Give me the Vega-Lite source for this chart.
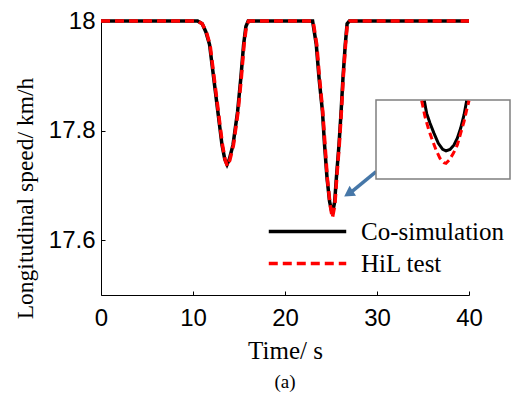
{
  "$schema": "https://vega.github.io/schema/vega-lite/v6.json",
  "width": 368,
  "height": 274,
  "autosize": {"type": "none"},
  "padding": {"left": 101, "top": 21, "right": 48, "bottom": 98},
  "background": "white",
  "view": {"stroke": null},
  "title": {"text": "(a)", "orient": "bottom", "font": "Liberation Serif", "fontSize": 19, "fontWeight": "normal", "color": "black", "offset": 10},
  "datasets": {
    "main": [
      {"s": "Co-simulation", "t": 0, "v": 18},
      {"s": "Co-simulation", "t": 10.5, "v": 18},
      {"s": "Co-simulation", "t": 11.0, "v": 17.995},
      {"s": "Co-simulation", "t": 11.4, "v": 17.98},
      {"s": "Co-simulation", "t": 11.8, "v": 17.957},
      {"s": "Co-simulation", "t": 12.25, "v": 17.896},
      {"s": "Co-simulation", "t": 12.7, "v": 17.835},
      {"s": "Co-simulation", "t": 13.15, "v": 17.774},
      {"s": "Co-simulation", "t": 13.45, "v": 17.748},
      {"s": "Co-simulation", "t": 13.7, "v": 17.738},
      {"s": "Co-simulation", "t": 13.95, "v": 17.748},
      {"s": "Co-simulation", "t": 14.35, "v": 17.774},
      {"s": "Co-simulation", "t": 14.85, "v": 17.835},
      {"s": "Co-simulation", "t": 15.2, "v": 17.896},
      {"s": "Co-simulation", "t": 15.5, "v": 17.957},
      {"s": "Co-simulation", "t": 15.75, "v": 17.99},
      {"s": "Co-simulation", "t": 16.0, "v": 18},
      {"s": "Co-simulation", "t": 23.0, "v": 18},
      {"s": "Co-simulation", "t": 23.4, "v": 17.957},
      {"s": "Co-simulation", "t": 23.7, "v": 17.896},
      {"s": "Co-simulation", "t": 24.07, "v": 17.835},
      {"s": "Co-simulation", "t": 24.3, "v": 17.774},
      {"s": "Co-simulation", "t": 24.57, "v": 17.713},
      {"s": "Co-simulation", "t": 24.85, "v": 17.67},
      {"s": "Co-simulation", "t": 25.14, "v": 17.648},
      {"s": "Co-simulation", "t": 25.4, "v": 17.67},
      {"s": "Co-simulation", "t": 25.58, "v": 17.713},
      {"s": "Co-simulation", "t": 25.87, "v": 17.774},
      {"s": "Co-simulation", "t": 26.1, "v": 17.835},
      {"s": "Co-simulation", "t": 26.3, "v": 17.896},
      {"s": "Co-simulation", "t": 26.55, "v": 17.957},
      {"s": "Co-simulation", "t": 26.75, "v": 17.995},
      {"s": "Co-simulation", "t": 27.0, "v": 18},
      {"s": "Co-simulation", "t": 40, "v": 18},
      {"s": "HiL test", "t": 0, "v": 18},
      {"s": "HiL test", "t": 10.5, "v": 18},
      {"s": "HiL test", "t": 11.0, "v": 17.995},
      {"s": "HiL test", "t": 11.45, "v": 17.98},
      {"s": "HiL test", "t": 11.85, "v": 17.957},
      {"s": "HiL test", "t": 12.3, "v": 17.896},
      {"s": "HiL test", "t": 12.75, "v": 17.835},
      {"s": "HiL test", "t": 13.2, "v": 17.774},
      {"s": "HiL test", "t": 13.5, "v": 17.746},
      {"s": "HiL test", "t": 13.75, "v": 17.735},
      {"s": "HiL test", "t": 14.0, "v": 17.746},
      {"s": "HiL test", "t": 14.4, "v": 17.774},
      {"s": "HiL test", "t": 14.9, "v": 17.835},
      {"s": "HiL test", "t": 15.25, "v": 17.896},
      {"s": "HiL test", "t": 15.55, "v": 17.957},
      {"s": "HiL test", "t": 15.8, "v": 17.99},
      {"s": "HiL test", "t": 16.05, "v": 18},
      {"s": "HiL test", "t": 23.05, "v": 18},
      {"s": "HiL test", "t": 23.45, "v": 17.957},
      {"s": "HiL test", "t": 23.75, "v": 17.896},
      {"s": "HiL test", "t": 24.1, "v": 17.835},
      {"s": "HiL test", "t": 24.35, "v": 17.774},
      {"s": "HiL test", "t": 24.6, "v": 17.713},
      {"s": "HiL test", "t": 24.9, "v": 17.665},
      {"s": "HiL test", "t": 25.15, "v": 17.641},
      {"s": "HiL test", "t": 25.42, "v": 17.665},
      {"s": "HiL test", "t": 25.62, "v": 17.713},
      {"s": "HiL test", "t": 25.9, "v": 17.774},
      {"s": "HiL test", "t": 26.13, "v": 17.835},
      {"s": "HiL test", "t": 26.33, "v": 17.896},
      {"s": "HiL test", "t": 26.58, "v": 17.957},
      {"s": "HiL test", "t": 26.78, "v": 17.995},
      {"s": "HiL test", "t": 27.05, "v": 18},
      {"s": "HiL test", "t": 40, "v": 18}
    ],
    "insetCo": [
      {"t": 24.786, "v": 17.6835},
      {"t": 24.824, "v": 17.6746},
      {"t": 24.879, "v": 17.6676},
      {"t": 24.944, "v": 17.6606},
      {"t": 25.014, "v": 17.6536},
      {"t": 25.085, "v": 17.6493},
      {"t": 25.139, "v": 17.6482},
      {"t": 25.204, "v": 17.6493},
      {"t": 25.269, "v": 17.6524},
      {"t": 25.323, "v": 17.6571},
      {"t": 25.377, "v": 17.6641},
      {"t": 25.432, "v": 17.6735},
      {"t": 25.475, "v": 17.6835}
    ],
    "insetHil": [
      {"t": 24.743, "v": 17.6835},
      {"t": 24.797, "v": 17.6723},
      {"t": 24.851, "v": 17.6641},
      {"t": 24.906, "v": 17.6571},
      {"t": 24.976, "v": 17.6489},
      {"t": 25.041, "v": 17.643},
      {"t": 25.106, "v": 17.64},
      {"t": 25.139, "v": 17.6395},
      {"t": 25.193, "v": 17.6419},
      {"t": 25.258, "v": 17.6465},
      {"t": 25.323, "v": 17.6524},
      {"t": 25.377, "v": 17.6606},
      {"t": 25.432, "v": 17.6688},
      {"t": 25.475, "v": 17.677},
      {"t": 25.513, "v": 17.6835}
    ],
    "box": [{"t1": 24.0, "t2": 26.18, "v1": 17.6285, "v2": 17.684}],
    "arrow": [{"t1": 29.91, "v1": 17.725, "t2": 27.26, "v2": 17.6885, "th": 26.9, "vh": 17.685}]
  },
  "layer": [
    {
      "layer": [
        {
          "data": {"name": "main"},
          "transform": [{"filter": "datum.s === 'Co-simulation'"}],
          "mark": {"type": "line", "strokeWidth": 3.5, "interpolate": "linear"},
          "encoding": {
            "x": {"field": "t", "type": "quantitative",
              "scale": {"domain": [0, 40], "nice": false, "zero": false},
              "axis": {"values": [0, 10, 20, 30, 40], "title": "Time/ s", "grid": false, "labelFlush": false,
                "domainColor": "black", "tickColor": "black", "tickSize": -4,
                "labelFont": "Liberation Sans", "labelFontSize": 24, "labelColor": "black", "labelPadding": 15,
                "titleFont": "Liberation Serif", "titleFontSize": 25, "titleFontWeight": "normal", "titleColor": "black", "titlePadding": 8}},
            "y": {"field": "v", "type": "quantitative",
              "scale": {"domain": [17.5, 18], "nice": false, "zero": false},
              "axis": {"values": [17.6, 17.8, 18], "format": ".3~r", "title": "Longitudinal speed/ km/h", "grid": false, "labelFlush": false,
                "domainColor": "black", "tickColor": "black", "tickSize": -4,
                "labelFont": "Liberation Sans", "labelFontSize": 24, "labelColor": "black", "labelPadding": 10,
                "titleFont": "Liberation Serif", "titleFontSize": 23.5, "titleFontWeight": "normal", "titleColor": "black", "titlePadding": 11, "titleY": 177}},
            "color": {"field": "s", "type": "nominal",
              "scale": {"domain": ["Co-simulation"], "range": ["black"]},
              "legend": {"title": null, "orient": "none", "legendX": 166, "legendY": 170, "symbolType": "stroke", "symbolSize": 6000, "symbolStrokeWidth": 3.5,
                "labelFont": "Liberation Serif", "labelFontSize": 25, "labelColor": "black", "labelOffset": 13, "padding": 0}}
          }
        },
        {
          "data": {"name": "main"},
          "transform": [{"filter": "datum.s === 'HiL test'"}],
          "mark": {"type": "line", "strokeWidth": 3.5, "color": "#ff0000", "interpolate": "linear"},
          "encoding": {
            "x": {"field": "t", "type": "quantitative"},
            "y": {"field": "v", "type": "quantitative"},
            "strokeDash": {"field": "s", "type": "nominal",
              "scale": {"domain": ["HiL test"], "range": [[9, 5]]},
              "legend": {"title": null, "orient": "none", "legendX": 166, "legendY": 202, "symbolType": "stroke", "symbolSize": 6000, "symbolStrokeWidth": 3.5,
                "symbolStrokeColor": "#ff0000",
                "labelFont": "Liberation Serif", "labelFontSize": 25, "labelColor": "black", "labelOffset": 13, "padding": 0}}
          }
        },
        {
          "data": {"name": "arrow"},
          "mark": {"type": "rule", "color": "#4677a8", "strokeWidth": 3.5},
          "encoding": {
            "x": {"field": "t1", "type": "quantitative"},
            "y": {"field": "v1", "type": "quantitative"},
            "x2": {"field": "t2"},
            "y2": {"field": "v2"}
          }
        },
        {
          "data": {"name": "arrow"},
          "mark": {"type": "point", "shape": "triangle-up", "filled": true, "color": "#4677a8", "opacity": 1, "size": 140, "angle": 237},
          "encoding": {
            "x": {"field": "th", "type": "quantitative"},
            "y": {"field": "vh", "type": "quantitative"}
          }
        }
      ]
    },
    {
      "layer": [
        {
          "data": {"name": "box"},
          "mark": {"type": "rect", "fill": "white", "stroke": "#7f7f7f", "strokeWidth": 1.5},
          "encoding": {
            "x": {"field": "t1", "type": "quantitative", "axis": null,
              "scale": {"domain": [24.0, 26.18], "range": [275, 409], "nice": false, "zero": false}},
            "x2": {"field": "t2"},
            "y": {"field": "v1", "type": "quantitative", "axis": null,
              "scale": {"domain": [17.6285, 17.684], "range": [158, 79], "nice": false, "zero": false}},
            "y2": {"field": "v2"}
          }
        },
        {
          "data": {"name": "insetCo"},
          "mark": {"type": "line", "color": "black", "strokeWidth": 3},
          "encoding": {
            "x": {"field": "t", "type": "quantitative", "axis": null},
            "y": {"field": "v", "type": "quantitative", "axis": null}
          }
        },
        {
          "data": {"name": "insetHil"},
          "mark": {"type": "line", "color": "#ff0000", "strokeWidth": 3, "strokeDash": [7, 4]},
          "encoding": {
            "x": {"field": "t", "type": "quantitative", "axis": null},
            "y": {"field": "v", "type": "quantitative", "axis": null}
          }
        }
      ]
    }
  ],
  "resolve": {"scale": {"x": "independent", "y": "independent"}}
}
